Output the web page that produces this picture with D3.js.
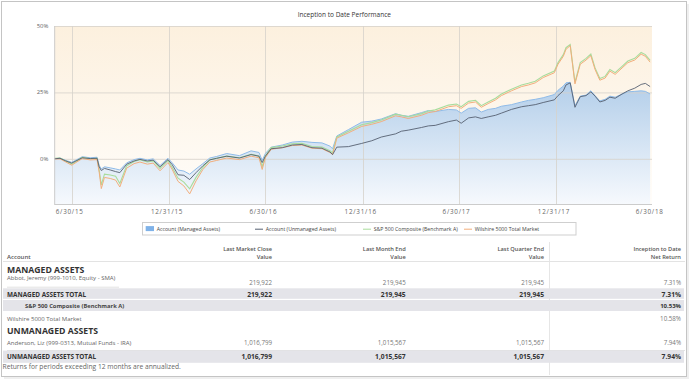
<!DOCTYPE html>
<html>
<head>
<meta charset="utf-8">
<script src="https://cdn.jsdelivr.net/npm/d3@7"></script>
<style>
  body { margin: 0; background: #fff; }
  svg { display: block; font-family: "Open Sans", "Noto Sans", sans-serif; }
</style>
</head>
<body>
<svg id="chart" width="697" height="387"></svg>
<script>
// ---- data (cumulative return, %) ----
const dates = [
  "2015-05-28","2015-06-08","2015-06-19","2015-06-30","2015-07-08","2015-07-20","2015-08-04","2015-08-17",
  "2015-08-21","2015-08-25","2015-08-31","2015-09-11","2015-09-21","2015-09-29","2015-10-12","2015-10-26",
  "2015-11-06","2015-11-20","2015-12-01","2015-12-14","2015-12-29","2016-01-06","2016-01-17","2016-01-28",
  "2016-02-08","2016-02-20","2016-03-04","2016-03-17","2016-03-30","2016-04-18","2016-05-12","2016-06-03",
  "2016-06-18","2016-06-24","2016-06-30","2016-07-11","2016-08-01","2016-08-20","2016-09-07","2016-09-26",
  "2016-10-15","2016-10-30","2016-11-04","2016-11-12","2016-12-04","2016-12-29","2017-01-17","2017-02-04",
  "2017-03-03","2017-03-14","2017-03-27","2017-04-21","2017-05-04","2017-05-17","2017-06-11","2017-06-26",
  "2017-07-05","2017-07-19","2017-08-01","2017-08-12","2017-08-25","2017-09-08","2017-09-19","2017-10-08",
  "2017-10-27","2017-11-09","2017-11-22","2017-12-07","2017-12-28","2018-01-04","2018-01-14","2018-01-19",
  "2018-01-27","2018-02-05","2018-02-15","2018-02-26","2018-03-07","2018-03-15","2018-03-24","2018-04-03",
  "2018-04-12","2018-04-22","2018-05-05","2018-05-16","2018-05-29","2018-06-10","2018-06-18","2018-06-27"
];
const managed = [
  0,0.3,-0.6,-1.3,-0.5,0.8,0.4,0.6,
  -2.5,-3.8,-3.0,-3.4,-3.8,-4.2,-1.5,-0.3,
  0.2,-0.4,0.0,-2.5,0.2,-1.5,-4.2,-4.6,
  -5.8,-3.8,-1.8,0.3,0.9,2.0,1.2,3.0,
  2.4,-0.6,2.0,4.4,5.2,6.3,6.6,6.2,
  6.0,4.8,3.8,8.6,11.0,13.8,14.2,15.0,
  17.0,16.4,16.0,17.4,18.2,17.8,18.6,18.4,
  17.2,19.0,19.2,17.6,18.6,19.0,19.8,20.4,
  21.4,22.0,22.4,23.0,24.2,25.8,27.4,28.6,
  28.8,20.0,23.6,24.0,25.6,23.8,21.8,22.4,
  23.6,23.2,24.4,25.2,25.4,25.6,25.4,24.4
];
const unmanaged = [
  0,0.2,-0.8,-1.6,-0.8,0.4,0.1,0.2,
  -3.0,-4.4,-3.6,-4.2,-4.8,-5.2,-2.0,-0.8,
  -0.2,-0.8,-0.5,-3.0,-0.3,-2.2,-6.0,-6.2,
  -7.8,-5.2,-2.6,-0.4,0.2,1.0,0.3,1.6,
  1.0,-1.4,1.0,3.8,4.2,5.2,5.4,4.2,
  4.0,2.6,1.6,4.4,4.6,5.8,6.8,8.2,
  9.4,10.4,10.8,11.8,12.4,12.6,14.0,14.6,
  13.4,15.4,15.8,15.2,15.8,16.4,17.2,18.6,
  19.6,20.0,20.4,21.2,22.2,23.8,25.6,27.8,
  28.6,19.4,23.4,23.8,25.2,23.6,21.4,22.0,
  23.2,22.8,24.4,25.6,26.6,28.0,28.4,27.2
];
const sp500 = [
  0,0.1,-1.0,-2.2,-1.2,0.3,-0.2,0.0,
  -4.5,-10.0,-6.0,-6.3,-6.8,-9.5,-2.8,-1.2,
  -0.6,-1.4,-1.0,-3.8,-0.8,-3.5,-7.5,-9.0,
  -11.5,-7.2,-3.4,-0.6,0.0,0.8,0.2,1.5,
  0.8,-3.2,0.8,4.0,4.6,5.4,5.6,4.4,
  4.2,2.8,2.0,8.0,10.2,12.6,13.4,14.4,
  16.6,16.2,15.6,16.8,17.8,18.2,20.0,20.4,
  19.4,21.4,21.8,19.8,21.2,22.6,24.2,26.0,
  27.6,28.2,29.0,31.0,32.8,36.0,39.0,41.6,
  42.8,28.6,36.0,37.6,39.2,34.0,30.0,30.8,
  33.4,32.2,34.6,36.6,37.6,39.8,39.0,36.8
];
const wilshire = [
  0,0.0,-1.2,-2.4,-1.4,0.1,-0.4,-0.3,
  -5.0,-11.2,-7.0,-7.4,-8.0,-10.6,-3.5,-1.8,
  -1.2,-2.0,-1.6,-4.5,-1.4,-4.0,-8.5,-10.2,
  -13.2,-8.3,-4.0,-1.2,-0.6,0.3,-0.3,1.0,
  0.4,-4.0,0.4,3.6,4.2,5.0,5.2,4.0,
  3.8,2.4,1.6,7.8,9.8,12.2,13.0,14.0,
  16.2,15.8,15.2,16.4,17.4,17.8,19.6,20.0,
  19.0,21.0,21.4,19.4,20.8,22.2,23.8,25.6,
  27.2,27.8,28.6,30.6,32.4,35.6,38.6,41.2,
  42.6,28.2,35.6,37.2,38.8,33.6,29.6,30.4,
  33.0,31.8,34.2,36.2,37.2,39.4,38.6,36.4
];
const yTicks = [0, 25, 50];
const xTicks = ["2015-06-30","2015-12-31","2016-06-30","2016-12-31","2017-06-30","2017-12-31","2018-06-30"];
const seriesNames = ["Account (Managed Assets)", "Account (Unmanaged Assets)", "S&P 500 Composite (Benchmark A)", "Wilshire 5000 Total Market"];

// ---- table ----
const tableHeaders = [["Last Market Close", "Value"], ["Last Month End", "Value"], ["Last Quarter End", "Value"], ["Inception to Date", "Net Return"]];
const rowLabels = ["MANAGED ASSETS", "Abbot, Jeremy (999-1010, Equity - SMA)", "MANAGED ASSETS TOTAL",
  "S&P 500 Composite (Benchmark A)", "Wilshire 5000 Total Market", "UNMANAGED ASSETS",
  "Anderson, Liz (999-0313, Mutual Funds - IRA)", "UNMANAGED ASSETS TOTAL"];
const rowTypes = ["section", "account", "total", "benchmark", "index", "section", "account", "total"];
const rowValues = [
  [],
  ["219,922", "219,945", "219,945", "7.31%"],
  ["219,922", "219,945", "219,945", "7.31%"],
  ["", "", "", "10.53%"],
  ["", "", "", "10.58%"],
  [],
  ["1,016,799", "1,015,567", "1,015,567", "7.94%"],
  ["1,016,799", "1,015,567", "1,015,567", "7.94%"]
];
const footnote = "Returns for periods exceeding 12 months are annualized.";

// ------------------------------------------------------------------
const svg = d3.select("#chart");
const parse = d3.timeParse("%Y-%m-%d");

// card with a soft shadow
svg.append("rect").attr("x", 4).attr("y", 4).attr("width", 685).attr("height", 375)
  .attr("fill", "#e4e4e4").attr("opacity", 0.6);
svg.append("rect").attr("x", 1.5).attr("y", 1.5).attr("width", 685).attr("height", 375)
  .attr("fill", "#fff").attr("stroke", "#c4c4c4");

const plot = { left: 54.2, right: 652, top: 26, bottom: 204 };

const x = d3.scaleTime()
  .domain([parse("2015-05-28"), parse("2018-06-30")])
  .range([plot.left, 651.7]);
const y = d3.scaleLinear().domain([-17, 50]).range([plot.bottom, plot.top]);

const defs = svg.append("defs");
const bg = defs.append("linearGradient").attr("id", "bg").attr("x1", 0).attr("y1", 0).attr("x2", 0).attr("y2", 1);
bg.append("stop").attr("offset", "0%").attr("stop-color", "#fcf0de");
bg.append("stop").attr("offset", "100%").attr("stop-color", "#fffdfa");
const blue = defs.append("linearGradient").attr("id", "blueFill")
  .attr("gradientUnits", "userSpaceOnUse").attr("x1", 0).attr("y1", 60).attr("x2", 0).attr("y2", plot.bottom);
blue.append("stop").attr("offset", "0%").attr("stop-color", "#a6c6e6");
blue.append("stop").attr("offset", "100%").attr("stop-color", "#f6f9fd");
defs.append("clipPath").attr("id", "clip").append("rect")
  .attr("x", plot.left).attr("y", plot.top).attr("width", plot.right - plot.left).attr("height", plot.bottom - plot.top);

// title
svg.append("text").attr("x", 344.3).attr("y", 14).attr("text-anchor", "middle")
  .attr("dominant-baseline", "central").attr("font-size", 6.5).attr("fill", "#333")
  .text("Inception to Date Performance");

svg.append("rect").attr("x", plot.left).attr("y", plot.top)
  .attr("width", plot.right - plot.left).attr("height", plot.bottom - plot.top).attr("fill", "url(#bg)");

const pts = dates.map((d, i) => ({ date: parse(d), m: managed[i], u: unmanaged[i], s: sp500[i], w: wilshire[i] }));

const g = svg.append("g").attr("clip-path", "url(#clip)");

g.append("path").datum(pts)
  .attr("fill", "url(#blueFill)")
  .attr("d", d3.area().x(d => x(d.date)).y0(plot.bottom).y1(d => y(d.m)));

// grid
g.selectAll(".hgrid").data(yTicks).enter().append("line")
  .attr("x1", plot.left).attr("x2", plot.right)
  .attr("y1", d => y(d) + 0.5).attr("y2", d => y(d) + 0.5)
  .attr("stroke", "#d6d2ca").attr("stroke-opacity", 0.8);
g.selectAll(".vgrid").data(xTicks).enter().append("line")
  .attr("x1", d => Math.round(x(parse(d))) + 0.5).attr("x2", d => Math.round(x(parse(d))) + 0.5)
  .attr("y1", plot.top).attr("y2", plot.bottom)
  .attr("stroke", "#d6d2ca").attr("stroke-opacity", 0.8);

const line = key => d3.line().x(d => x(d.date)).y(d => y(d[key]));

g.append("path").datum(pts).attr("fill", "none").attr("stroke", "#8fbbe8").attr("stroke-width", 1).attr("d", line("m"));
g.append("path").datum(pts).attr("fill", "none").attr("stroke", "#a8dc9c").attr("stroke-width", 1.1)
  .attr("transform", "translate(0,-0.6)").attr("d", line("s"));
g.append("path").datum(pts).attr("fill", "none").attr("stroke", "#f2ae7c").attr("stroke-width", 1).attr("d", line("w"));
g.append("path").datum(pts).attr("fill", "none").attr("stroke", "#566071").attr("stroke-width", 0.9).attr("d", line("u"));

// axes
svg.append("line").attr("x1", plot.left + 0.5).attr("x2", plot.left + 0.5).attr("y1", plot.top).attr("y2", plot.bottom)
  .attr("stroke", "#ccc");
svg.append("line").attr("x1", plot.left).attr("x2", plot.right).attr("y1", plot.bottom + 0.5).attr("y2", plot.bottom + 0.5)
  .attr("stroke", "#ccc");

svg.selectAll(".ylab").data(yTicks).enter().append("text")
  .attr("x", 48.3).attr("y", d => y(d)).attr("text-anchor", "end").attr("dominant-baseline", "central")
  .attr("font-size", 5.9).attr("fill", "#666").text(d => d + "%");

const fmt = d3.timeFormat("%-m/%-d/%y");
svg.selectAll(".xlab").data(xTicks).enter().append("text")
  .attr("x", d => x(parse(d)) - 2).attr("y", 211.5).attr("text-anchor", "middle").attr("dominant-baseline", "central")
  .attr("font-size", 6.3).attr("letter-spacing", 0.75).attr("fill", "#666").text(d => fmt(parse(d)));

// legend
const legendX = [145.7, 255, 363, 464];
svg.append("rect").attr("x", 142.5).attr("y", 222.5).attr("width", 433.5).attr("height", 12.5)
  .attr("fill", "#fff").attr("stroke", "#cfcfcf");
const legendSwatch = ["#7fb2e8", "#566071", "#a8dc9c", "#f2ae7c"];
const lg = svg.selectAll(".leg").data(seriesNames).enter().append("g")
  .attr("transform", (d, i) => `translate(${legendX[i]},228.7)`);
lg.each(function(d, i) {
  const s = d3.select(this);
  if (i === 0) {
    s.append("rect").attr("x", 0).attr("y", -2.6).attr("width", 8.3).attr("height", 5).attr("fill", legendSwatch[0]);
  } else {
    s.append("line").attr("x1", 0).attr("x2", 8).attr("y1", 0.5).attr("y2", 0.5)
      .attr("stroke", legendSwatch[i]).attr("stroke-width", 1);
  }
  s.append("text").attr("x", i === 0 ? 11 : 10.7).attr("y", 0).attr("dominant-baseline", "central")
    .attr("font-size", 5.2).attr("fill", "#444").text(d);
});

// ---- table ----
const colRight = [272, 405.7, 544, 681];
svg.append("line").attr("x1", 549.5).attr("x2", 549.5).attr("y1", 242).attr("y2", 375)
  .attr("stroke", "#e6e6e6");

svg.append("text").attr("x", 7).attr("y", 257).attr("dominant-baseline", "central")
  .attr("font-size", 6).attr("font-weight", 600).attr("fill", "#555").text("Account");
tableHeaders.forEach((h, i) => {
  h.forEach((t, j) => {
    svg.append("text").attr("x", colRight[i]).attr("y", 248.5 + j * 8.2).attr("text-anchor", "end")
      .attr("dominant-baseline", "central").attr("font-size", 5.7).attr("font-weight", 600)
      .attr("fill", "#555").text(t);
  });
});
svg.append("line").attr("x1", 3).attr("x2", 685).attr("y1", 261.5).attr("y2", 261.5).attr("stroke", "#e3e3e3");

const rowLayout = [
  { y: 269.5 },
  { y: 278, vy: 282, rule: 286.7, ruleEnd: 119 },
  { y: 294.3, band: [288.3, 298.8] },
  { y: 305.5, band: [300, 311] },
  { y: 318.8 },
  { y: 330.8 },
  { y: 342.8, vy: 342.8, rule: 350, ruleEnd: 685 },
  { y: 356.8, band: [350.6, 362.8] }
];
const rowStyle = {
  section: { size: 8.7, weight: 700, fill: "#333", x: 7 },
  account: { size: 6, weight: 400, fill: "#666", x: 7 },
  total: { size: 6.4, weight: 700, fill: "#333", x: 7 },
  benchmark: { size: 5.8, weight: 700, fill: "#444", x: 25 },
  index: { size: 6, weight: 400, fill: "#666", x: 7 }
};

rowLabels.forEach((label, i) => {
  const t = rowTypes[i], L = rowLayout[i], st = rowStyle[t];
  if (L.band) {
    svg.append("rect").attr("x", 3).attr("y", L.band[0]).attr("width", 681).attr("height", L.band[1] - L.band[0])
      .attr("fill", "#e4e4e9");
  }
  if (L.rule) {
    svg.append("line").attr("x1", 7).attr("x2", L.ruleEnd)
      .attr("y1", L.rule + 0.5).attr("y2", L.rule + 0.5).attr("stroke", "#e2e2e2");
  }
  svg.append("text").attr("x", st.x).attr("y", L.y).attr("dominant-baseline", "central")
    .attr("font-size", st.size).attr("font-weight", st.weight).attr("fill", st.fill).text(label);
  const strong = t === "total" || t === "benchmark";
  rowValues[i].forEach((v, j) => {
    if (!v) return;
    svg.append("text").attr("x", colRight[j]).attr("y", L.vy || L.y).attr("text-anchor", "end")
      .attr("dominant-baseline", "central")
      .attr("font-size", t === "total" ? 6.7 : (t === "benchmark" ? 6 : 6.2))
      .attr("font-weight", strong ? 700 : 400)
      .attr("fill", strong ? "#333" : "#777").text(v);
  });
});

svg.append("text").attr("x", 2.5).attr("y", 366.3).attr("dominant-baseline", "central")
  .attr("font-size", 6.7).attr("fill", "#666").text(footnote);
</script>
</body>
</html>
